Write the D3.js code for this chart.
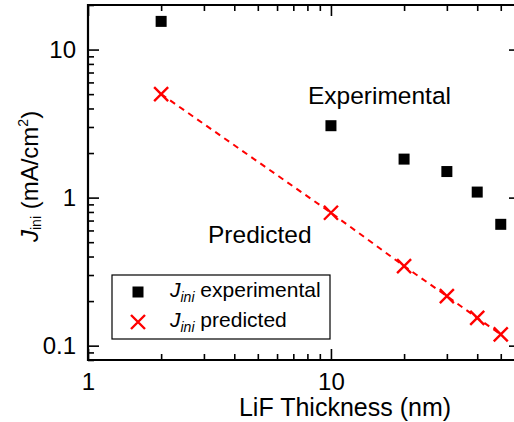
<!DOCTYPE html>
<html lang="en">
  <head>
    <meta charset="UTF-8" />
    <title>Jini vs LiF thickness</title>
    <style>
      body {
        margin: 0;
        background: #fff;
      }
      svg {
        display: block;
        font-family: "Liberation Sans", Arial, Helvetica, sans-serif;
      }
      .frame line,
      .tick line {
        stroke: #000;
      }
    </style>
  </head>
  <body>
    <svg width="514" height="422"></svg>

    <script src="https://d3js.org/d3.v7.min.js"></script>
    <script>
      // data
      const thickness = [2, 10, 20, 30, 40, 50];
      const jExperimental = [15.5, 3.06, 1.82, 1.5, 1.09, 0.66];
      const jPredicted = [5.0, 0.79, 0.345, 0.216, 0.154, 0.119];

      const xMajor = [1, 10];
      const xMinor = [2, 3, 4, 5, 6, 7, 8, 9, 20, 30, 40, 50, 60];
      const yMajor = [0.1, 1, 10];
      const yMinor = [0.08, 0.09, 0.2, 0.3, 0.4, 0.5, 0.6, 0.7, 0.8, 0.9,
                      2, 3, 4, 5, 6, 7, 8, 9, 20];

      const svg = d3.select("svg");

      // plot area
      const plotLeft = 88, plotRight = 520, plotTop = 5, plotBottom = 360;

      const x = d3.scaleLog().domain([1, 60]).range([plotLeft, plotRight]);
      const y = d3.scaleLog().domain([0.08, 20]).range([plotBottom, plotTop]);

      // axes: ticks point inwards
      function addAxis(axis, tx, ty, values, size, labels) {
        const g = svg.append("g")
          .attr("transform", `translate(${tx},${ty})`)
          .call(axis.tickValues(values).tickSize(-size).tickSizeOuter(0)
            .tickFormat(labels ? d3.format("") : ""));
        g.select(".domain").remove();
        g.selectAll(".tick line").attr("stroke-width", 1.6);
        g.selectAll("text")
          .attr("fill", "#000")
          .attr("font-size", 24)
          .attr("font-family", "Liberation Sans, Arial, sans-serif");
        return g;
      }

      // bottom
      addAxis(d3.axisBottom(x).tickPadding(13), 0, plotBottom, xMajor, 11, true);
      addAxis(d3.axisBottom(x), 0, plotBottom, xMinor, 6, false);
      // top
      addAxis(d3.axisTop(x), 0, plotTop, xMajor, 11, false);
      addAxis(d3.axisTop(x), 0, plotTop, xMinor, 6, false);
      // left
      addAxis(d3.axisLeft(y).tickPadding(12), plotLeft, 0, yMajor, 11, true);
      addAxis(d3.axisLeft(y), plotLeft, 0, yMinor, 6, false);
      // right
      addAxis(d3.axisRight(y), plotRight, 0, yMajor, 11, false);
      addAxis(d3.axisRight(y), plotRight, 0, yMinor, 6, false);

      // frame
      const frame = svg.append("g").attr("class", "frame").attr("stroke-width", 2.2);
      frame.append("line").attr("x1", plotLeft).attr("x2", plotLeft).attr("y1", plotTop - 1).attr("y2", plotBottom + 1);
      frame.append("line").attr("x1", plotRight).attr("x2", plotRight).attr("y1", plotTop - 1).attr("y2", plotBottom + 1);
      frame.append("line").attr("x1", plotLeft - 1).attr("x2", plotRight).attr("y1", plotTop).attr("y2", plotTop);
      frame.append("line").attr("x1", plotLeft - 1).attr("x2", plotRight).attr("y1", plotBottom).attr("y2", plotBottom);

      // predicted: dashed red line
      const predicted = thickness.map((t, i) => [t, jPredicted[i]]);
      svg.append("path")
        .datum(predicted)
        .attr("fill", "none")
        .attr("stroke", "#ff0000")
        .attr("stroke-width", 2)
        .attr("stroke-dasharray", "6,5")
        .attr("d", d3.line().x((d) => x(d[0])).y((d) => y(d[1])));

      // cross marker
      function cross(g, cx, cy, s) {
        g.append("path")
          .attr("d", `M${cx - s},${cy - s}L${cx + s},${cy + s}M${cx - s},${cy + s}L${cx + s},${cy - s}`)
          .attr("stroke", "#ff0000")
          .attr("stroke-width", 2.4)
          .attr("fill", "none");
      }

      const crosses = svg.append("g");
      predicted.forEach((d) => cross(crosses, x(d[0]), y(d[1]), 7));

      // experimental squares
      svg.append("g")
        .selectAll("rect")
        .data(thickness.map((t, i) => [t, jExperimental[i]]))
        .join("rect")
        .attr("x", (d) => x(d[0]) - 5.5)
        .attr("y", (d) => y(d[1]) - 5.5)
        .attr("width", 11)
        .attr("height", 11)
        .attr("fill", "#000");

      // annotations
      svg.append("text").attr("x", 308).attr("y", 104)
        .attr("font-size", 24.5).text("Experimental");
      svg.append("text").attr("x", 208).attr("y", 243)
        .attr("font-size", 24.5).text("Predicted");

      // axis titles
      svg.append("text")
        .attr("x", 345).attr("y", 416)
        .attr("text-anchor", "middle")
        .attr("font-size", 25)
        .text("LiF Thickness (nm)");

      const yTitle = svg.append("text")
        .attr("transform", "translate(38,242) rotate(-90)")
        .attr("font-size", 24);
      yTitle.append("tspan").attr("font-style", "italic").text("J");
      yTitle.append("tspan").attr("font-size", 14).attr("dy", 3).text("ini");
      yTitle.append("tspan").attr("dy", -3).text(" (mA/cm");
      yTitle.append("tspan").attr("font-size", 14).attr("dy", -10).text("2");
      yTitle.append("tspan").attr("dy", 10).text(")");

      // legend
      const legend = svg.append("g");
      legend.append("rect")
        .attr("x", 112).attr("y", 275)
        .attr("width", 218).attr("height", 64)
        .attr("fill", "#fff")
        .attr("stroke", "#000")
        .attr("stroke-width", 1.2);
      legend.append("rect")
        .attr("x", 138 - 5.5).attr("y", 292 - 5.5)
        .attr("width", 11).attr("height", 11)
        .attr("fill", "#000");
      cross(legend, 138, 322, 7);

      const legendRows = [
        { label: "experimental", y: 297 },
        { label: "predicted", y: 327 },
      ];
      legendRows.forEach((r) => {
        const t = legend.append("text")
          .attr("x", 170).attr("y", r.y)
          .attr("font-size", 21);
        t.append("tspan").attr("font-style", "italic").text("J");
        t.append("tspan").attr("font-style", "italic")
          .attr("font-size", 14).attr("dy", 5).text("ini");
        t.append("tspan").attr("dy", -5).text(" " + r.label);
      });
    </script>
  </body>
</html>
